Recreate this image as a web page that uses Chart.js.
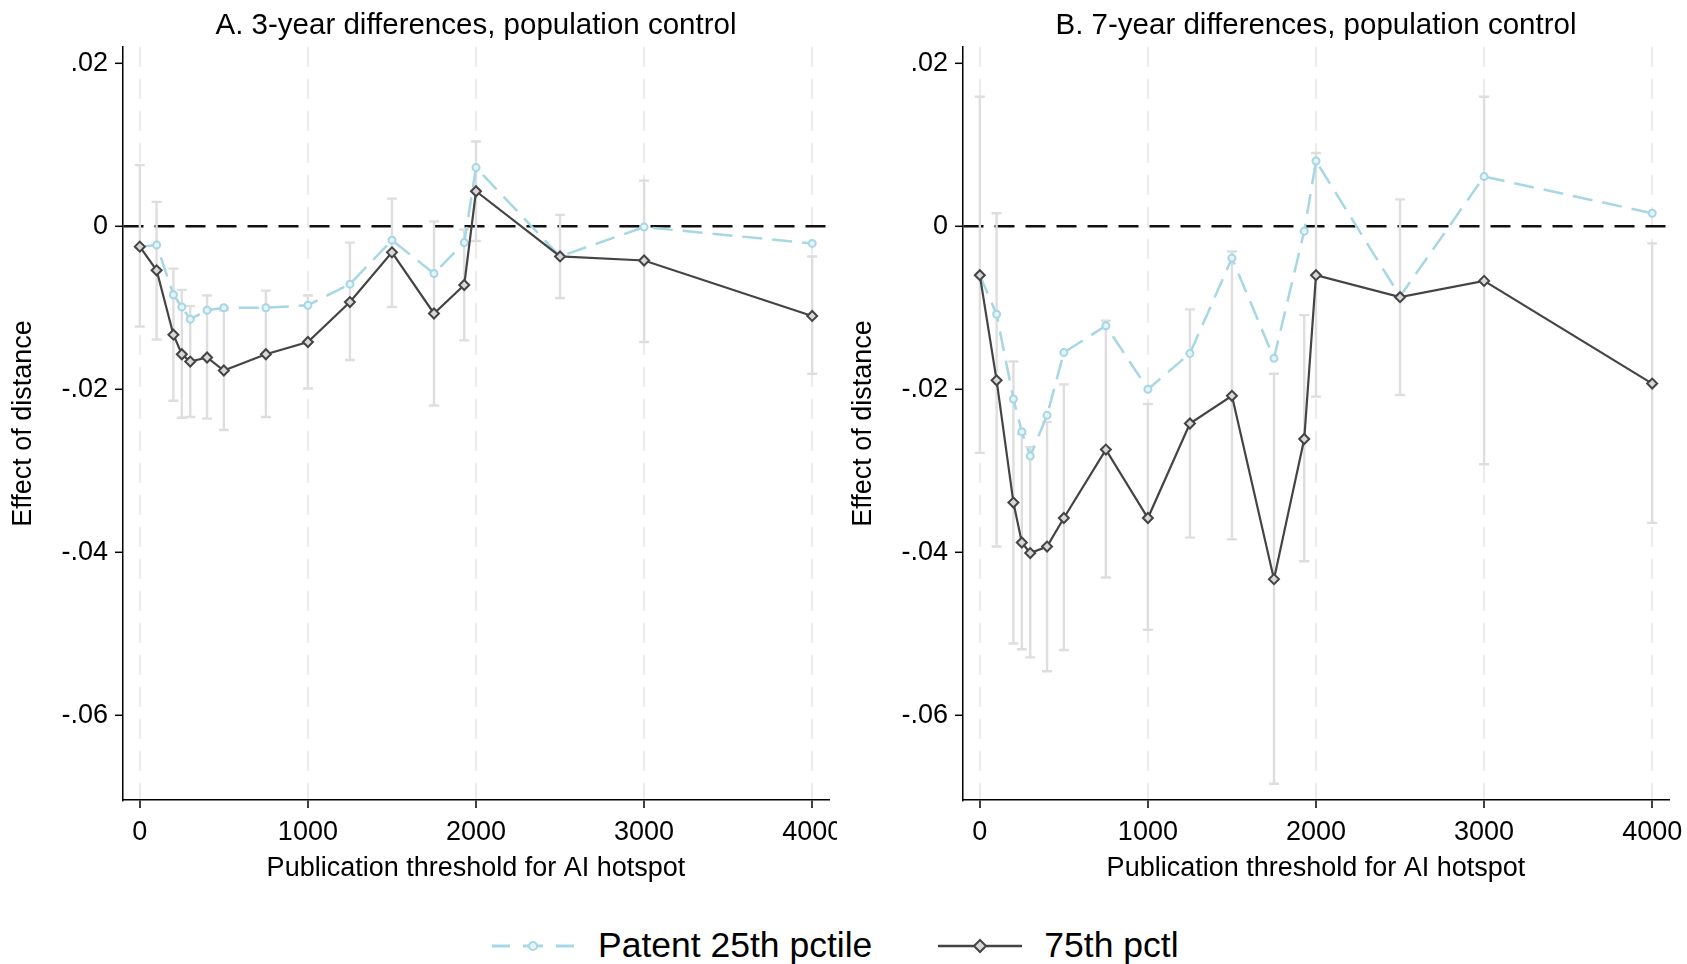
<!DOCTYPE html>
<html>
<head>
<meta charset="utf-8">
<script src="https://cdn.jsdelivr.net/npm/chart.js@4/dist/chart.umd.min.js"></script>
<style>
  html, body { margin: 0; padding: 0; background: #fff; overflow: hidden; }
  body { width: 1687px; height: 964px; position: relative; font-family: "Liberation Sans", Arial, sans-serif; }
  .panel { position: absolute; top: 0; height: 900px; overflow: hidden; }
  #wrapA { left: 0; width: 837px; }
  #wrapB { left: 840px; width: 847px; }
  #legend { position: absolute; left: 492px; top: 925px; display: flex; align-items: center; font-size: 35.5px; color: #000; white-space: nowrap; }
  #legend .item { display: flex; align-items: center; }
  #legend svg { display: block; }
</style>
</head>
<body>
<div class="panel" id="wrapA"><canvas id="panelA" width="900" height="900"></canvas></div>
<div class="panel" id="wrapB"><canvas id="panelB" width="900" height="900"></canvas></div>
<div id="legend">
  <div class="item">
    <svg width="82" height="36">
      <line x1="0" y1="18" x2="18" y2="18" stroke="#a7d6e5" stroke-width="3"/>
      <line x1="31" y1="18" x2="51" y2="18" stroke="#a7d6e5" stroke-width="3"/>
      <line x1="64" y1="18" x2="82" y2="18" stroke="#a7d6e5" stroke-width="3"/>
      <circle cx="41" cy="18" r="4" fill="#e6f3f7" stroke="#a7d6e5" stroke-width="2"/>
    </svg>
    <span style="margin-left:24px">Patent 25th pctile</span>
  </div>
  <div class="item" style="margin-left:66px">
    <svg width="84" height="36">
      <line x1="0" y1="18" x2="84" y2="18" stroke="#444" stroke-width="2.5"/>
      <polygon points="42,12 48,18 42,24 36,18" fill="#d8d8d8" stroke="#444" stroke-width="2"/>
    </svg>
    <span style="margin-left:22px">75th pctl</span>
  </div>
</div>
<script>
const thresholds = [0, 100, 200, 250, 300, 400, 500, 750, 1000, 1250, 1500, 1750, 1930, 2000, 2500, 3000, 4000];

const xTicks = [0, 1000, 2000, 3000, 4000];
const xTickLabels = ["0", "1000", "2000", "3000", "4000"];
const yTicks = [0.02, 0, -0.02, -0.04, -0.06];
const yTickLabels = [".02", "0", "-.02", "-.04", "-.06"];

// panel A: 3-year differences
const p25A = [-0.0025, -0.0023, -0.0084, -0.0099, -0.0114, -0.0103, -0.0100, -0.0100, -0.0097, -0.0071, -0.0017, -0.0058, -0.0020, 0.0072, -0.0037, -0.0001, -0.0021];
const p75A = [-0.0025, -0.0054, -0.0133, -0.0157, -0.0166, -0.0161, -0.0177, -0.0157, -0.0142, -0.0093, -0.0032, -0.0107, -0.0072, 0.0043, -0.0037, -0.0042, -0.0110];
const ciLowA = [-0.0123, -0.0139, -0.0214, -0.0235, -0.0234, -0.0236, -0.0250, -0.0234, -0.0199, -0.0164, -0.0099, -0.0220, -0.0140, -0.0018, -0.0088, -0.0142, -0.0181];
const ciHighA = [0.0075, 0.0030, -0.0052, -0.0078, -0.0098, -0.0085, -0.0103, -0.0079, -0.0085, -0.0020, 0.0034, 0.0006, -0.0004, 0.0104, 0.0014, 0.0056, -0.0037];

// panel B: 7-year differences
const p25B = [-0.0060, -0.0108, -0.0212, -0.0252, -0.0282, -0.0232, -0.0155, -0.0122, -0.0200, -0.0156, -0.0039, -0.0162, -0.0006, 0.0080, -0.0086, 0.0061, 0.0016];
const p75B = [-0.0060, -0.0189, -0.0339, -0.0388, -0.0401, -0.0393, -0.0358, -0.0274, -0.0358, -0.0242, -0.0208, -0.0433, -0.0261, -0.0060, -0.0087, -0.0067, -0.0193];
const ciLowB = [-0.0278, -0.0393, -0.0512, -0.0519, -0.0529, -0.0546, -0.0520, -0.0431, -0.0495, -0.0382, -0.0384, -0.0684, -0.0411, -0.0209, -0.0207, -0.0292, -0.0364];
const ciHighB = [0.0159, 0.0016, -0.0166, -0.0255, -0.0271, -0.0240, -0.0194, -0.0116, -0.0218, -0.0102, -0.0031, -0.0181, -0.0109, 0.0090, 0.0033, 0.0159, -0.0021];

const FONT = "'Liberation Sans', Arial, sans-serif";
const LIGHT = "#a7d6e5";
const DARK = "#444444";

// grey confidence bars, drawn under the lines
const errorBars = {
  id: "errorBars",
  beforeDatasetsDraw(chart, args, opts) {
    const { ctx, chartArea } = chart;
    const xs = chart.scales.x, ys = chart.scales.y;
    ctx.save();
    ctx.beginPath();
    ctx.rect(chartArea.left, chartArea.top, chartArea.right - chartArea.left, chartArea.bottom - chartArea.top);
    ctx.clip();
    ctx.strokeStyle = "#dedede";
    ctx.lineWidth = 2.4;
    opts.lo.forEach((lo, i) => {
      const x = xs.getPixelForValue(thresholds[i]);
      const y1 = ys.getPixelForValue(lo);
      const y2 = ys.getPixelForValue(opts.hi[i]);
      ctx.beginPath();
      ctx.moveTo(x, y1); ctx.lineTo(x, y2);
      ctx.moveTo(x - 5, y1); ctx.lineTo(x + 5, y1);
      ctx.moveTo(x - 5, y2); ctx.lineTo(x + 5, y2);
      ctx.stroke();
    });
    ctx.restore();
  }
};

function makePanel(id, title, p25, p75, lo, hi) {
  new Chart(document.getElementById(id), {
    type: "line",
    data: {
      datasets: [
        {
          label: "Patent 25th pctile",
          data: thresholds.map((t, i) => ({ x: t, y: p25[i] })),
          borderColor: LIGHT,
          borderWidth: 2.5,
          borderDash: [20, 10],
          pointStyle: "circle",
          pointRadius: 3.5,
          pointBorderWidth: 2,
          pointBorderColor: LIGHT,
          pointBackgroundColor: "#e6f3f7",
          tension: 0,
          order: 2
        },
        {
          label: "75th pctl",
          data: thresholds.map((t, i) => ({ x: t, y: p75[i] })),
          borderColor: DARK,
          borderWidth: 2.2,
          pointStyle: "rectRot",
          pointRadius: 5,
          pointBorderWidth: 2,
          pointBorderColor: DARK,
          pointBackgroundColor: "#d8d8d8",
          tension: 0,
          order: 1
        }
      ]
    },
    options: {
      responsive: false,
      animation: false,
      devicePixelRatio: 1,
      layout: { padding: { left: 0, right: 71, top: 0, bottom: 0 } },
      plugins: {
        legend: { display: false },
        tooltip: { enabled: false },
        title: {
          display: true,
          text: title,
          fullSize: false,
          color: "#000",
          font: { family: FONT, size: 29.5, weight: "normal" },
          padding: { top: 8, bottom: 3.6 }
        },
        errorBars: { lo, hi }
      },
      scales: {
        x: {
          type: "linear",
          min: -100,
          max: 4100,
          afterBuildTicks: (s) => { s.ticks = xTicks.map(v => ({ value: v })); },
          afterFit: (s) => { s.height = 100; s.paddingLeft = 0; s.paddingRight = 0; },
          ticks: {
            color: "#000",
            font: { family: FONT, size: 27 },
            padding: 8,
            maxRotation: 0,
            autoSkip: false,
            callback: (v) => xTickLabels[xTicks.indexOf(v)]
          },
          grid: {
            color: "#ebebeb",
            lineWidth: 2,
            drawTicks: true,
            tickLength: 8,
            tickColor: "#000",
            tickWidth: 1.5
          },
          border: { display: true, color: "#000", width: 1.5, dash: [20, 12] },
          title: {
            display: true,
            text: "Publication threshold for AI hotspot",
            color: "#000",
            font: { family: FONT, size: 27 },
            padding: { top: 0, bottom: 15 }
          }
        },
        y: {
          type: "linear",
          min: -0.0704,
          max: 0.0220,
          afterBuildTicks: (s) => { s.ticks = yTicks.map(v => ({ value: v })); },
          afterFit: (s) => { s.width = 123; },
          ticks: {
            color: "#000",
            font: { family: FONT, size: 27 },
            padding: 7,
            autoSkip: false,
            callback: (v) => yTickLabels[yTicks.indexOf(v)]
          },
          grid: {
            color: (c) => (c.tick && c.tick.value === 0 ? "#111" : "transparent"),
            lineWidth: 2.6,
            drawTicks: true,
            tickLength: 8,
            tickColor: "#000",
            tickWidth: 1.5
          },
          border: { display: true, color: "#000", width: 1.5, dash: [20, 11] },
          title: {
            display: true,
            text: "Effect of distance",
            color: "#000",
            font: { family: FONT, size: 27 },
            padding: { top: 7.5, bottom: 0 }
          }
        }
      }
    },
    plugins: [errorBars]
  });
}

makePanel("panelA", "A. 3-year differences, population control", p25A, p75A, ciLowA, ciHighA);
makePanel("panelB", "B. 7-year differences, population control", p25B, p75B, ciLowB, ciHighB);
</script>
</body>
</html>
